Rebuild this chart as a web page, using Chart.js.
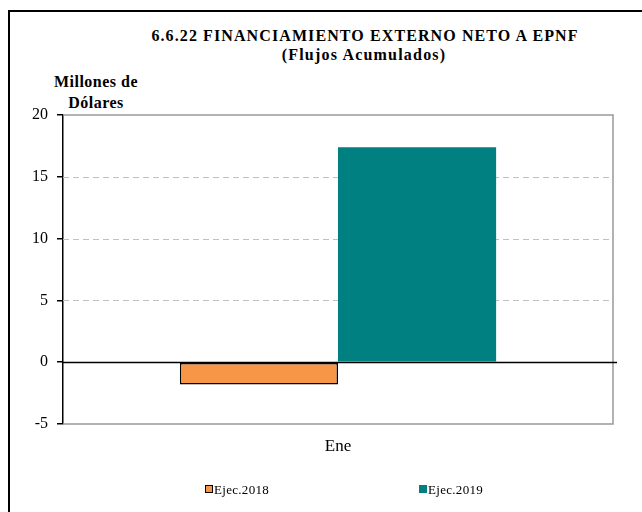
<!DOCTYPE html>
<html>
<head>
<meta charset="utf-8">
<script src="https://cdn.jsdelivr.net/npm/chart.js@4.4.1/dist/chart.umd.min.js"></script>
<style>
  html, body { margin: 0; padding: 0; background: #fff; overflow: hidden; }
  #stage { position: relative; width: 642px; height: 512px; overflow: hidden; font-family: "Liberation Serif", "Times New Roman", serif; color: #000; }
  #frame { position: absolute; left: 8px; top: 10px; width: 700px; height: 600px; border: 2px solid #000; }
  .title { position: absolute; font-weight: bold; white-space: nowrap; transform: translateX(-50%); line-height: 1; }
  #box { position: absolute; left: 0; top: 0; width: 642px; height: 512px; }
  .leg { position: absolute; top: 483px; font-size: 13px; line-height: 1; white-space: nowrap; letter-spacing: 0.3px; }
  .leg i { display: inline-block; box-sizing: border-box; width: 8px; height: 8px; margin-right: 1px; vertical-align: 1px; }
</style>
</head>
<body>
<div id="stage">
  <div id="frame"></div>
  <div class="title" style="left:365px; top:28px; font-size:16px; letter-spacing:1.1px;">6.6.22 FINANCIAMIENTO EXTERNO NETO A EPNF</div>
  <div class="title" style="left:364px; top:47px; font-size:16px; letter-spacing:1.2px;">(Flujos Acumulados)</div>
  <div class="title" style="left:96px; top:74px; font-size:16px; letter-spacing:0.5px;">Millones de</div>
  <div class="title" style="left:96px; top:95px; font-size:16px; letter-spacing:0.5px;">Dólares</div>
  <div id="box"><canvas id="chart"></canvas></div>
  <div id="legend"></div>
</div>
<script>
// Data
const categories = ['Ene'];
const seriesNames = ['Ejec.2018', 'Ejec.2019'];
const ejec2018 = [-1.8];
const ejec2019 = [17.4];
const yTicks = [-5, 0, 5, 10, 15, 20];

const FONT = '"Liberation Serif", "Times New Roman", serif';

// Plot frame, dashed grid and zero line drawn through the y scale
const plotDecor = {
  id: 'plotDecor',
  beforeDatasetsDraw(chart) {
    const { ctx, chartArea: a, scales: { y } } = chart;
    ctx.save();
    ctx.strokeStyle = '#c0c0c0';
    ctx.lineWidth = 1;
    ctx.setLineDash([6, 4]);
    yTicks.forEach((v) => {
      if (v === 0 || v === yTicks[0] || v === yTicks[yTicks.length - 1]) return;
      const py = Math.round(y.getPixelForValue(v)) + 0.5;
      ctx.beginPath();
      ctx.moveTo(a.left, py);
      ctx.lineTo(a.right, py);
      ctx.stroke();
    });
    ctx.setLineDash([]);
    ctx.strokeStyle = '#999';
    ctx.lineWidth = 1.5;
    ctx.beginPath();
    ctx.moveTo(a.left, a.top);
    ctx.lineTo(a.right, a.top);
    ctx.lineTo(a.right, a.bottom);
    ctx.lineTo(a.left, a.bottom);
    ctx.stroke();
    ctx.restore();
  },
  afterDatasetsDraw(chart) {
    const { ctx, chartArea: a, scales: { y } } = chart;
    const py = Math.round(y.getPixelForValue(0)) + 0.5;
    ctx.save();
    ctx.strokeStyle = '#000';
    ctx.lineWidth = 1.5;
    ctx.beginPath();
    ctx.moveTo(a.left, py);
    ctx.lineTo(a.right + 4, py);
    ctx.stroke();
    ctx.restore();
  }
};

const chart = new Chart(document.getElementById('chart'), {
  type: 'bar',
  data: {
    labels: categories,
    datasets: [
      { label: seriesNames[0], data: ejec2018, backgroundColor: '#F79646', borderColor: '#000', borderWidth: 1.5, borderSkipped: false },
      { label: seriesNames[1], data: ejec2019, backgroundColor: '#008080', borderWidth: 0 }
    ]
  },
  options: {
    responsive: true,
    maintainAspectRatio: false,
    animation: false,
    layout: { padding: { top: 115, left: 0, right: 29, bottom: 0 } },
    datasets: { bar: { categoryPercentage: 0.575, barPercentage: 1 } },
    plugins: { legend: { display: false }, title: { display: false }, tooltip: { enabled: false } },
    scales: {
      x: {
        grid: { display: false },
        border: { display: false },
        ticks: { color: '#000', font: { family: FONT, size: 17 }, padding: 4 },
        afterFit(s) { s.height = 88; }
      },
      y: {
        min: -5,
        max: 20,
        ticks: { stepSize: 5, color: '#000', font: { family: FONT, size: 16 }, padding: 9 },
        grid: { drawOnChartArea: false, drawTicks: true, tickLength: 6, tickColor: '#000', lineWidth: 1.5 },
        border: { display: true, color: '#000', width: 1.5 },
        afterFit(s) { s.width = 63; }
      }
    }
  },
  plugins: [plotDecor]
});

// HTML legend from the datasets
const legendPos = [205, 419];
const elLegend = document.getElementById('legend');
chart.data.datasets.forEach((ds, i) => {
  const div = document.createElement('div');
  div.className = 'leg';
  div.style.left = legendPos[i] + 'px';
  const border = ds.borderWidth ? 'border:1.5px solid #000;' : '';
  div.innerHTML = `<i style="background:${ds.backgroundColor};${border}"></i>${ds.label}`;
  elLegend.appendChild(div);
});
</script>
</body>
</html>
